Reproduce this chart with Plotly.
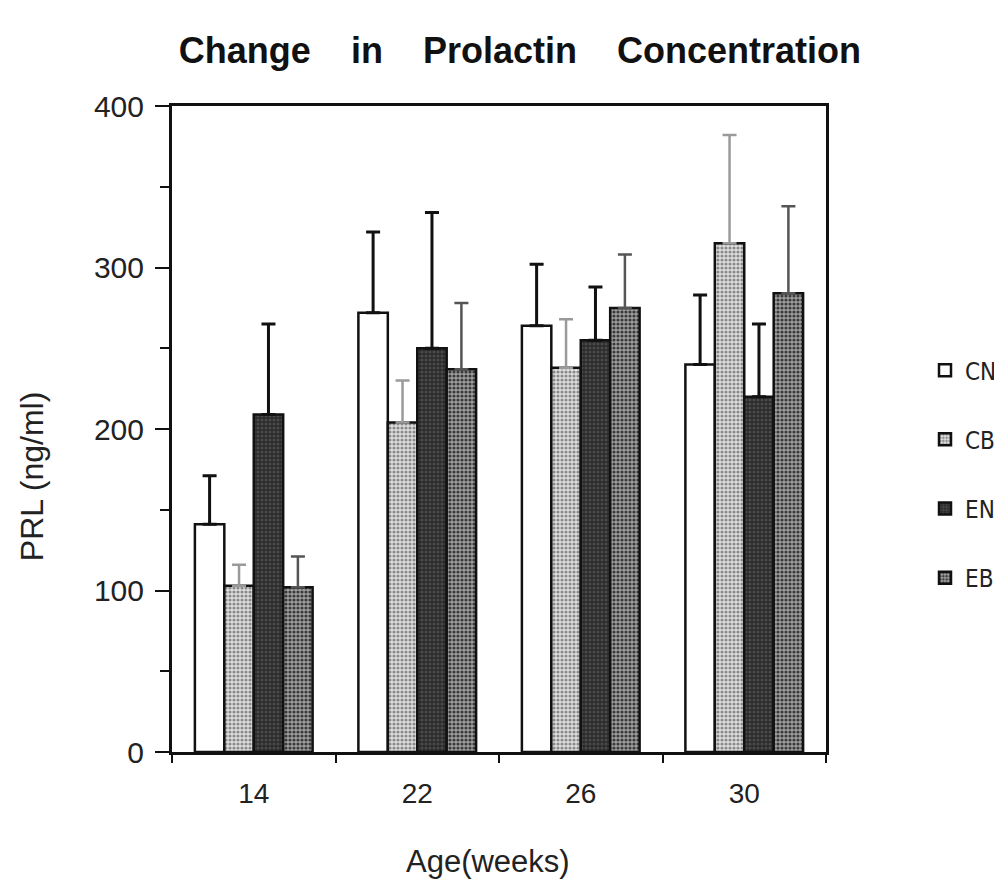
import plotly.graph_objects as go

ages = ["14", "22", "26", "30"]
groups = ["CN", "CB", "EN", "EB"]
means = {
    "CN": [141, 272, 264, 240],
    "CB": [103, 204, 238, 315],
    "EN": [209, 250, 255, 220],
    "EB": [102, 237, 275, 284],
}
err_top = {
    "CN": [171, 322, 302, 283],
    "CB": [116, 230, 268, 382],
    "EN": [265, 334, 288, 265],
    "EB": [121, 278, 308, 338],
}
x_title = "Age(weeks)"
y_title = "PRL (ng/ml)"
title_text = "<b>Change    in    Prolactin    Concentration</b>"

styles = {
    "CN": dict(bg="white", fg="white", shape="", ecol="#111111", eth=3),
    "CB": dict(bg="#e0e0e0", fg="#8a8a8a", shape=".", ecol="#9a9a9a", eth=2.5),
    "EN": dict(bg="#2a2a2a", fg="#4a4a4a", shape=".", ecol="#111111", eth=3),
    "EB": dict(bg="#a0a0a0", fg="#3a3a3a", shape=".", ecol="#555555", eth=2.5),
}

fig = go.Figure()
for g in groups:
    s = styles[g]
    errs = [t - m for t, m in zip(err_top[g], means[g])]
    fig.add_trace(go.Bar(
        name=g, x=ages, y=means[g], legendgroup=g,
        marker=dict(color=s["bg"], line=dict(color="#111111", width=2.5),
                    pattern=dict(shape=s["shape"], fgcolor=s["fg"], bgcolor=s["bg"],
                                 size=4, solidity=0.5, fillmode="replace")),
        error_y=dict(type="data", array=errs, arrayminus=[0]*4, symmetric=False,
                     color=s["ecol"], thickness=s["eth"], width=7),
    ))

fig.update_layout(
    width=994, height=881,
    paper_bgcolor="white", plot_bgcolor="white",
    margin=dict(l=164, r=176, t=98, b=137, autoexpand=False),
    barmode="group", bargap=0.28, bargroupgap=0,
    font=dict(family="Liberation Sans, Arial, sans-serif", color="#222222"),
    title=dict(text=title_text,
               x=0.515, xanchor="center", y=0.952, yanchor="middle",
               font=dict(size=36, color="#111111")),
    legend=dict(xref="container", yref="container", x=1.0, xanchor="right",
                y=0.471, yanchor="middle",
                font=dict(size=24, family="Liberation Sans Narrow, DejaVu Sans Condensed, Liberation Sans",
                          color="#222222"),
                tracegroupgap=35, traceorder="grouped", itemwidth=30,
                bgcolor="rgba(0,0,0,0)"),
    showlegend=True,
    annotations=[
        dict(text=y_title, textangle=-90, xref="paper", yref="paper",
             x=-0.214, y=0.427, xanchor="center", yanchor="middle", showarrow=False,
             font=dict(size=32, color="#222222")),
        dict(text=x_title, xref="paper", yref="paper",
             x=0.483, y=-0.170, xanchor="center", yanchor="middle", showarrow=False,
             font=dict(size=31, color="#222222")),
    ],
)
fig.update_xaxes(
    type="category", tickson="boundaries", ticks="outside", ticklen=8, tickwidth=2,
    tickcolor="#111111", showline=True, linecolor="#111111", linewidth=3, mirror=True,
    showgrid=False, tickfont=dict(size=28, color="#222222"), ticklabelstandoff=14,
)
fig.update_yaxes(
    range=[0, 400], dtick=100, ticks="outside", ticklen=14, tickwidth=2,
    tickcolor="#111111", showline=True, linecolor="#111111", linewidth=3, mirror=True,
    showgrid=False, zeroline=False, tickfont=dict(size=30, color="#222222"),
    ticklabelstandoff=5,
    minor=dict(dtick=50, ticks="outside", ticklen=9, tickwidth=2, tickcolor="#111111", showgrid=False),
)

fig.write_html("out.html")
